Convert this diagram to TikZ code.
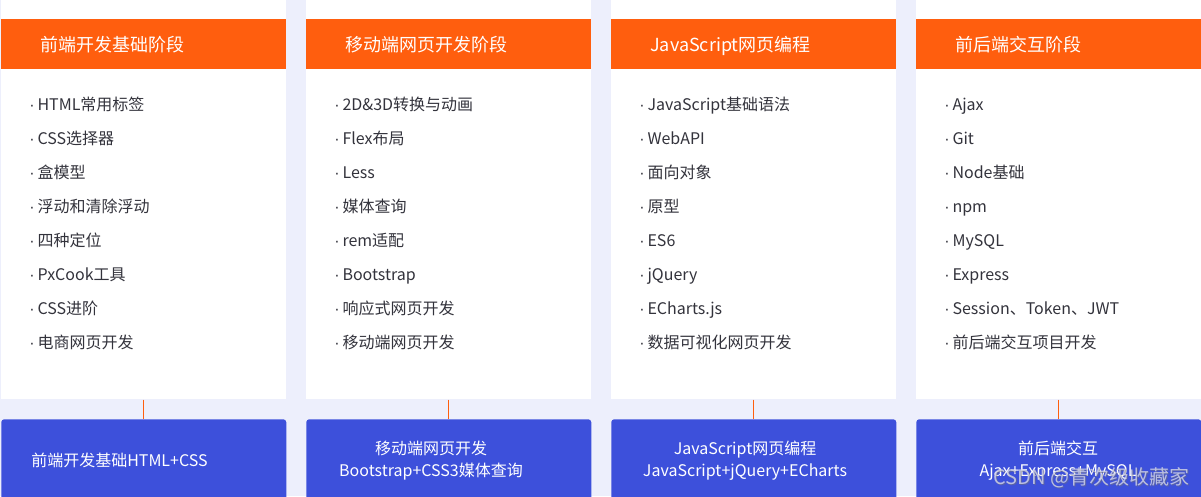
\documentclass[tikz,border=0pt]{standalone}
\usepackage{fontspec}
\setmainfont{Noto Sans CJK SC}
\newfontfamily\dotfont{Liberation Sans}
\newcommand{\bul}{{\dotfont ·}\hspace{2.2pt}}
\definecolor{bgc}{RGB}{237,239,252}
\definecolor{orng}{RGB}{255,94,14}
\definecolor{blu}{RGB}{61,80,219}
\definecolor{txtg}{RGB}{51,51,60}
\definecolor{wmc}{RGB}{205,208,230}
\begin{document}
\begin{tikzpicture}[x=0.75pt,y=-0.75pt,
  panel/.style={fill=white, draw=none, minimum width=213.75pt, minimum height=299.25pt, inner sep=0pt, anchor=north west},
  head/.style={fill=orng, draw=none, minimum width=213.75pt, minimum height=37.5pt, inner sep=0pt, anchor=north west},
  headtxt/.style={text=white, font=\fontsize{13.5pt}{16pt}\selectfont, anchor=base west, inner sep=0pt},
  item/.style={text=txtg, font=\fontsize{12pt}{14pt}\selectfont, anchor=base west, inner sep=0pt},
  bbox/.style={fill=blu, draw=none, rounded corners=2.25pt, minimum width=213.75pt, minimum height=64.5pt, inner sep=0pt, anchor=north west},
  boxtxt/.style={text=white, font=\fontsize{12pt}{16.5pt}\selectfont, anchor=base, inner sep=0pt},
  conn/.style={draw=orng, line width=0.75pt}]
\useasboundingbox (0,0) rectangle (1201,496);
\clip (0,0) rectangle (1201,496);
\fill[bgc] (0,0) rectangle (1201,496);
% panels
\node[panel] (p1) at (1,0) {};
\node[panel] (p2) at (306,0) {};
\node[panel] (p3) at (611,0) {};
\node[panel] (p4) at (916,0) {};
% headers
\node[head] (h1) at (1,19) {};
\node[head] (h2) at (306,19) {};
\node[head] (h3) at (611,19) {};
\node[head] (h4) at (916,19) {};
\node[headtxt] (ht1) at (40,51) {前端开发基础阶段};
\node[headtxt] (ht2) at (345,51) {移动端网页开发阶段};
\node[headtxt] (ht3) at (650,51) {JavaScript网页编程};
\node[headtxt] (ht4) at (955,51) {前后端交互阶段};
% items
\foreach \t [count=\i] in {HTML常用标签, CSS选择器, 盒模型, 浮动和清除浮动, 四种定位, PxCook工具, CSS进阶, 电商网页开发}
  \node[item] (a\i) at (29,{110+34*(\i-1)}) {\bul\t};
\foreach \t [count=\i] in {2D\&3D转换与动画, Flex布局, Less, 媒体查询, rem适配, Bootstrap, 响应式网页开发, 移动端网页开发}
  \node[item] (b\i) at (334,{110+34*(\i-1)}) {\bul\t};
\foreach \t [count=\i] in {JavaScript基础语法, WebAPI, 面向对象, 原型, ES6, jQuery, ECharts.js, 数据可视化网页开发}
  \node[item] (c\i) at (639,{110+34*(\i-1)}) {\bul\t};
\foreach \t [count=\i] in {Ajax, Git, Node基础, npm, MySQL, Express, Session、Token、JWT, 前后端交互项目开发}
  \node[item] (d\i) at (944,{110+34*(\i-1)}) {\bul\t};
% bottom boxes
\node[bbox] (q1) at (1,419) {};
\node[bbox] (q2) at (306,419) {};
\node[bbox] (q3) at (611,419) {};
\node[bbox] (q4) at (916,419) {};
\node[boxtxt, anchor=base west] (qt1) at (31,466) {前端开发基础HTML+CSS};
\node[boxtxt] (qt2a) at (431,454) {移动端网页开发};
\node[boxtxt] (qt2b) at (431,476) {Bootstrap+CSS3媒体查询};
\node[boxtxt] (qt3a) at (745,454) {JavaScript网页编程};
\node[boxtxt] (qt3b) at (745,476) {JavaScript+jQuery+ECharts};
\node[boxtxt] (qt4a) at (1058,454) {前后端交互};
\node[boxtxt] (qt4b) at (1058,476) {Ajax+Express+MySQL};
% connectors
\draw[conn] (p1.south) -- (q1.north);
\draw[conn] (p2.south) -- (q2.north);
\draw[conn] (p3.south) -- (q3.north);
\draw[conn] (p4.south) -- (q4.north);
% watermark
\node[anchor=base west, inner sep=0pt, text=black!55, opacity=0.5, font=\fontsize{15pt}{17pt}\selectfont] (wms) at (994,485) {CSDN @青次级收藏家};
\node[anchor=base west, inner sep=0pt, text=wmc, opacity=0.85, font=\fontsize{15pt}{17pt}\selectfont] (wm) at (993,484) {CSDN @青次级收藏家};
\end{tikzpicture}
\end{document}
